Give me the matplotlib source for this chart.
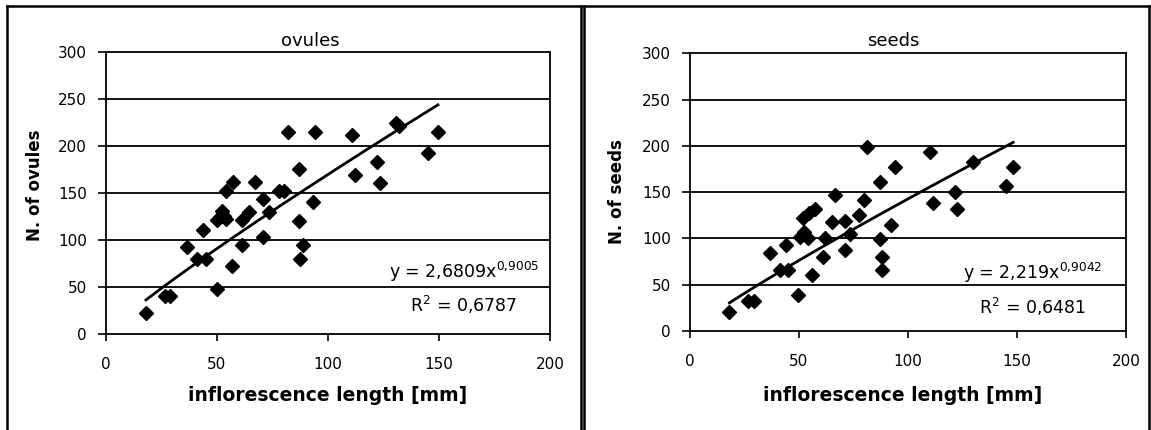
import numpy as np
import matplotlib
matplotlib.use("Agg")
import matplotlib.pyplot as plt
from matplotlib.lines import Line2D

plt.rcParams['font.family'] = ['DejaVu Sans']
plt.rcParams['mathtext.fontset'] = 'dejavusans'
plt.rcParams['mathtext.default'] = 'regular'

# ---------------- data ----------------
ovules_x = [18.0, 26.6, 28.8, 36.4, 40.8, 43.8, 45.2, 50.0, 49.9, 51.4, 52.1, 53.0,
            54.1, 53.9, 56.6, 57.4, 61.1, 61.1, 64.6, 67.3, 70.9, 70.9, 73.6, 77.9,
            80.2, 81.8, 87.1, 87.1, 87.4, 88.9, 93.4, 94.3, 110.7, 112.2, 122.1,
            123.3, 130.5, 132.1, 145.0, 149.5]
ovules_y = [22, 40, 40, 92, 80, 111, 80, 48, 121, 124, 131, 125,
            122, 152, 72, 161, 95, 121, 130, 161, 103, 143, 130, 152,
            152, 215, 175, 120, 80, 95, 140, 215, 211, 169, 183,
            160, 224, 221, 192, 215]

seeds_x = [18.1, 26.8, 29.4, 36.7, 41.3, 43.9, 45.1, 49.4, 50.5, 52.0, 52.5, 54.3,
           54.6, 55.9, 57.4, 61.2, 61.7, 65.1, 66.6, 71.2, 71.2, 73.5, 77.7, 79.6,
           81.4, 87.2, 87.2, 88.0, 88.3, 92.3, 94.1, 109.9, 111.4, 121.5, 122.3,
           129.8, 145.0, 148.2]
seeds_y = [20, 32, 32, 84, 66, 93, 66, 39, 102, 122, 107, 100,
           127, 60, 132, 80, 100, 118, 147, 87, 119, 105, 125, 141,
           199, 161, 99, 66, 80, 114, 177, 193, 138, 150, 132,
           183, 157, 177]

# power trendlines (as reported on the chart)
ovules_fit = (2.6809, 0.9005, "0,6787")
seeds_fit = (2.219, 0.9042, "0,6481")

panel_titles = ["ovules", "seeds"]
y_labels = ["N. of ovules", "N. of seeds"]
x_label = "inflorescence length [mm]"
eq_labels = ["y = 2,6809x$^{0{,}9005}$", "y = 2,219x$^{0{,}9042}$"]

W, H = 1151, 430
fig = plt.figure(figsize=(W / 100, H / 100), dpi=100)
fig.patch.set_facecolor('white')

def fx(px):
    return px / W

def fy(py):
    return 1 - py / H

# outer boxes
for x0, x1 in [(6.5, 581), (584, 1149)]:
    for xs, ys in [([x0, x0], [6, 432]), ([x1, x1], [6, 432]), ([x0, x1], [6, 6])]:
        fig.add_artist(Line2D([fx(v) for v in xs], [fy(v) for v in ys],
                              color='black', lw=1.8, transform=fig.transFigure))

axes_px = [(106, 51.7, 550, 334.0), (690, 53.3, 1126, 331.0)]
datasets = [(ovules_x, ovules_y, ovules_fit), (seeds_x, seeds_y, seeds_fit)]
title_pos = [(310, 46.5), (893, 46.5)]
ylabel_pos = [(35, 185), (617, 192)]
xlabel_pos = [(328, 401), (903, 401)]
ann_center = [464, 1033]
ann_base = [(278, 312), (279, 314)]

for i in range(2):
    l, t, r, b = axes_px[i]
    ax = fig.add_axes([fx(l), fy(b), fx(r - l), (b - t) / H])
    xs, ys, (a, k, r2) = datasets[i]
    ax.set_xlim(0, 200)
    ax.set_ylim(0, 300)
    ax.set_xticks([0, 50, 100, 150, 200])
    ax.set_yticks([0, 50, 100, 150, 200, 250, 300])
    for yv in [50, 100, 150, 200, 250]:
        ax.axhline(yv, color='black', lw=1.3, zorder=1)
    for s in ax.spines.values():
        s.set_color('black')
        s.set_linewidth(1.3)
    ax.tick_params(axis='y', direction='out', length=5.8, width=1.2, pad=8,
                   labelsize=11, colors='black')
    ax.tick_params(axis='x', direction='out', length=5, width=1.2, pad=11.5,
                   labelsize=11, colors='black')
    ax.plot(xs, ys, linestyle='none', marker='D', ms=6.8, color='black', zorder=3)
    xf = np.linspace(min(xs), max(xs), 200)
    ax.plot(xf, a * xf ** k, color='black', lw=2, zorder=2)

    fig.text(fx(title_pos[i][0]), fy(title_pos[i][1]), panel_titles[i],
             ha='center', va='baseline', fontsize=13)
    fig.text(fx(ylabel_pos[i][0]), fy(ylabel_pos[i][1]), y_labels[i],
             ha='center', va='center', rotation=90, fontsize=12, fontweight='bold')
    fig.text(fx(xlabel_pos[i][0]), fy(xlabel_pos[i][1]), x_label,
             ha='center', va='baseline', fontsize=13.5, fontweight='bold')
    fig.text(fx(ann_center[i]), fy(ann_base[i][0]), eq_labels[i],
             ha='center', va='baseline', fontsize=12.5)
    fig.text(fx(ann_center[i]), fy(ann_base[i][1]), "R$^2$ = " + r2,
             ha='center', va='baseline', fontsize=12.5)

fig.savefig("out.png", dpi=100, facecolor='white')
